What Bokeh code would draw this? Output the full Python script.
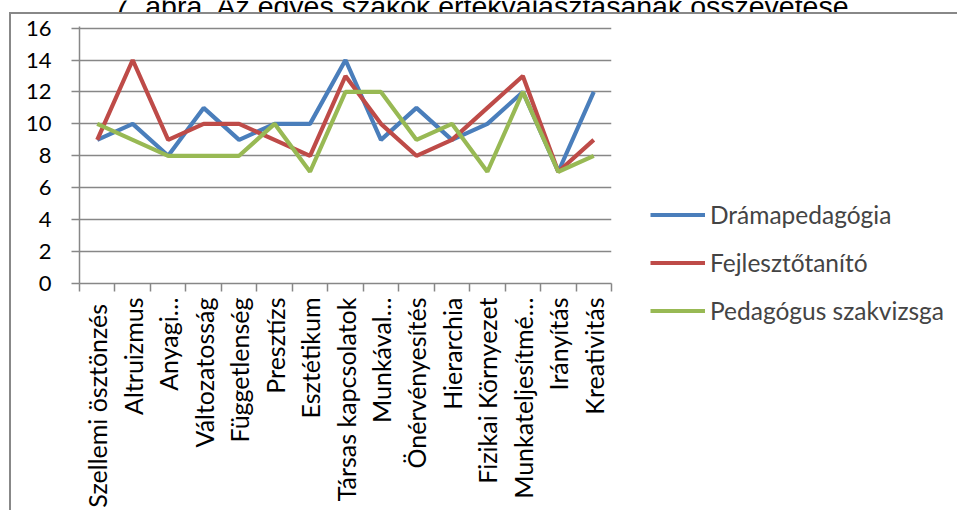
import math
from bokeh.plotting import figure
from bokeh.layouts import column, row
from bokeh.models import (Range1d, FixedTicker, Legend, LegendItem, Label,
                          InlineStyleSheet)
from bokeh.embed import file_html
from bokeh.resources import INLINE

title_text = "7. ábra. Az egyes szakok értékválasztásának összevetése"

categories = ["Szellemi  ösztönzés", "Altruizmus", "Anyagi…", "Változatosság",
              "Függetlenség", "Presztízs", "Esztétikum", "Társas kapcsolatok",
              "Munkával…", "Önérvényesítés", "Hierarchia", "Fizikai Környezet",
              "Munkateljesítmé…", "Irányítás", "Kreativitás"]

series_names = ["Drámapedagógia", "Fejlesztőtanító", "Pedagógus szakvizsga"]
dramapedagogia = [9, 10, 8, 11, 9, 10, 10, 14, 9, 11, 9, 10, 12, 7, 12]
fejleszto = [9, 14, 9, 10, 10, 9, 8, 13, 10, 8, 9, 11, 13, 7, 9]
pedagogus = [10, 9, 8, 8, 8, 10, 7, 12, 12, 9, 10, 7, 12, 7, 8]
y_ticks = [0, 2, 4, 6, 8, 10, 12, 14, 16]

colors = ["#4A7EBB", "#BE4B48", "#98B954"]
GRID = "#878787"
FONT = "Lato"
series = [dramapedagogia, fejleszto, pedagogus]


def bare(width, height):
    f = figure(width=width, height=height, output_backend="svg", toolbar_location=None,
               x_axis_location=None, y_axis_location=None, min_border=0,
               x_range=Range1d(0, 1), y_range=Range1d(0, 1))
    f.grid.visible = False
    f.outline_line_color = None
    f.frame_align = False
    return f


# --- title strip (its upper part is cut off, as in the reference) ---
tf = bare(957, 12)
tf.add_layout(Label(x=113, y=7, x_units="screen", y_units="screen", text=title_text,
                    text_align="left", text_baseline="alphabetic",
                    text_font="Liberation Sans", text_font_size="28.5px",
                    text_color="black"))

# --- main chart ---
p = figure(width=616, height=498, output_backend="svg", toolbar_location=None,
           x_range=Range1d(-0.5, len(categories) - 0.5),
           y_range=Range1d(0, 16.1),
           min_border_left=79, min_border_right=5,
           min_border_top=14, min_border_bottom=225)
p.frame_align = False
p.outline_line_color = None
p.stylesheets = [InlineStyleSheet(css=(
    ":host::after { content: ''; position: absolute; left: 8.5px; top: 0px; "
    "right: 0px; bottom: 0px; border-left: 2px solid #888888; "
    "border-top: 2px solid #888888; pointer-events: none; }"))]

xs = list(range(len(categories)))
for vals, c in zip(series, colors):
    p.line(xs, vals, line_color=c, line_width=4.2)

# x axis
xa = p.xaxis[0]
xa.ticker = FixedTicker(ticks=xs, minor_ticks=[i - 0.5 for i in range(len(categories) + 1)])
xa.major_label_overrides = {i: c for i, c in enumerate(categories)}
xa.major_label_orientation = math.pi / 2
xa.major_tick_line_color = None
xa.major_tick_out = 0
xa.major_tick_in = 0
xa.minor_tick_line_color = GRID
xa.minor_tick_line_width = 1.5
xa.minor_tick_out = 8
xa.minor_tick_in = 0
xa.axis_line_color = GRID
xa.axis_line_width = 1.5
xa.major_label_standoff = 6
xa.major_label_text_font = FONT
xa.major_label_text_font_size = "25px"
xa.major_label_text_color = "black"

# y axis
ya = p.yaxis[0]
ya.ticker = FixedTicker(ticks=y_ticks)
ya.major_tick_line_color = GRID
ya.major_tick_line_width = 1.5
ya.major_tick_out = 8
ya.major_tick_in = 0
ya.minor_tick_line_color = None
ya.axis_line_color = GRID
ya.axis_line_width = 1.5
ya.major_label_standoff = 20
ya.major_label_text_font = FONT
ya.major_label_text_font_size = "22px"
ya.major_label_text_color = "black"

p.xgrid.grid_line_color = None
p.ygrid.ticker = FixedTicker(ticks=y_ticks)
p.ygrid.grid_line_color = GRID
p.ygrid.grid_line_width = 1.5

# --- legend panel to the right of the chart ---
# (the key renderers share the series styles; their data lies outside this
#  panel's ranges, so only the legend keys are visible)
lf = bare(341, 498)
lf.stylesheets = [InlineStyleSheet(css=(
    ":host::after { content: ''; position: absolute; left: 0px; top: 0px; "
    "right: 0px; bottom: 0px; border-top: 2px solid #888888; "
    "pointer-events: none; }"))]
keys = [lf.line(xs, vals, line_color=c, line_width=4) for vals, c in zip(series, colors)]
legend = Legend(items=[LegendItem(label=n, renderers=[r]) for n, r in zip(series_names, keys)],
                location=(34, 185), padding=0, margin=0, border_line_color=None,
                background_fill_alpha=0, glyph_width=55, glyph_height=29,
                label_height=29, label_standoff=5, spacing=19,
                label_text_font=FONT, label_text_font_size="24.5px",
                label_text_baseline="middle")
lf.add_layout(legend)

layout = column(tf, row(p, lf, spacing=0), spacing=0)
open("out.html", "w").write(file_html(layout, INLINE))
